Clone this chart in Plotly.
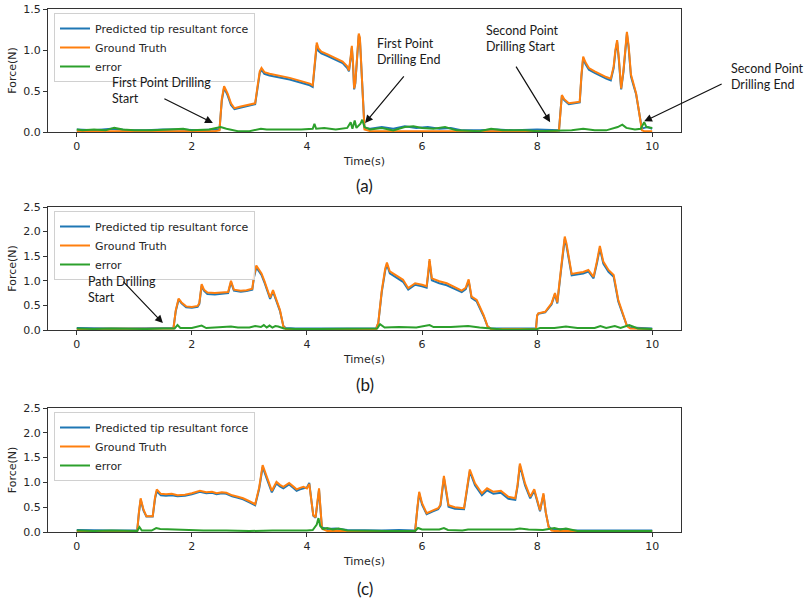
import plotly.graph_objects as go

W, H = 808, 603

# ---------------- data: panel (a) ----------------
T_A = [0.00, 0.30, 0.60, 0.90, 1.20, 1.50, 1.80, 2.10, 2.40, 2.48, 2.52, 2.56, 2.62, 2.68, 2.74, 2.85, 3.00, 3.10,
       3.14, 3.18, 3.21, 3.26, 3.35, 3.50, 3.70, 3.90, 4.05, 4.10, 4.14, 4.17, 4.20, 4.25, 4.35, 4.50, 4.62, 4.70,
       4.73, 4.76, 4.78, 4.80, 4.82, 4.84, 4.87, 4.90, 4.92, 4.95, 4.98, 5.00, 5.10, 5.30, 5.50, 5.70, 5.90, 6.10,
       6.30, 6.50, 6.70, 7.00, 7.30, 7.60, 8.00, 8.30, 8.38, 8.41, 8.43, 8.47, 8.55, 8.65, 8.74, 8.77, 8.80, 8.84,
       8.90, 9.00, 9.10, 9.20, 9.28, 9.33, 9.36, 9.39, 9.42, 9.46, 9.50, 9.53, 9.56, 9.59, 9.63, 9.67, 9.72, 9.77,
       9.82, 9.86, 9.92, 10.00]
GT_A = [0.01, 0.01, 0.01, 0.01, 0.01, 0.01, 0.01, 0.01, 0.01, 0.02, 0.40, 0.56, 0.47, 0.35, 0.29, 0.31, 0.33, 0.35,
        0.55, 0.74, 0.78, 0.73, 0.71, 0.69, 0.66, 0.62, 0.59, 0.57, 0.85, 1.09, 1.02, 0.98, 0.95, 0.90, 0.86, 0.80,
        0.75, 0.92, 1.05, 0.85, 0.53, 0.60, 0.95, 1.20, 1.15, 0.70, 0.20, 0.03, 0.01, 0.01, 0.01, 0.01, 0.01, 0.01,
        0.01, 0.01, 0.01, 0.01, 0.01, 0.01, 0.01, 0.01, 0.02, 0.30, 0.45, 0.40, 0.35, 0.36, 0.37, 0.70, 0.92, 0.85,
        0.78, 0.74, 0.70, 0.67, 0.65, 0.80, 1.00, 1.12, 0.90, 0.53, 0.75, 1.05, 1.22, 1.05, 0.70, 0.60, 0.47, 0.25,
        0.02, 0.01, 0.01, 0.01]
PRED_A = [0.03, 0.02, 0.04, 0.02, 0.02, 0.03, 0.03, 0.02, 0.03, 0.03, 0.38, 0.54, 0.45, 0.33, 0.28, 0.30, 0.32, 0.34,
          0.53, 0.72, 0.76, 0.71, 0.69, 0.67, 0.64, 0.60, 0.57, 0.55, 0.83, 1.06, 0.99, 0.96, 0.93, 0.88, 0.84, 0.78,
          0.74, 0.90, 1.03, 0.83, 0.52, 0.59, 0.93, 1.18, 1.13, 0.69, 0.20, 0.05, 0.04, 0.06, 0.04, 0.07, 0.05, 0.06,
          0.04, 0.05, 0.02, 0.02, 0.03, 0.02, 0.03, 0.02, 0.02, 0.29, 0.44, 0.39, 0.34, 0.35, 0.36, 0.68, 0.90, 0.83,
          0.76, 0.72, 0.68, 0.65, 0.63, 0.78, 0.98, 1.10, 0.88, 0.52, 0.73, 1.03, 1.20, 1.03, 0.68, 0.58, 0.46, 0.25,
          0.04, 0.05, 0.06, 0.04]
TE_A = [0.00, 0.10, 0.30, 0.50, 0.65, 0.80, 1.00, 1.30, 1.60, 1.85, 2.00, 2.30, 2.50, 2.60, 2.80, 3.00, 3.20, 3.30,
        3.60, 3.90, 4.10, 4.13, 4.16, 4.30, 4.50, 4.70, 4.76, 4.79, 4.83, 4.86, 4.93, 4.96, 5.00, 5.10, 5.30, 5.50,
        5.70, 5.85, 6.00, 6.20, 6.40, 6.60, 7.00, 7.20, 7.40, 7.80, 8.00, 8.40, 8.60, 8.80, 9.00, 9.20, 9.40, 9.48,
        9.55, 9.70, 9.80, 9.86, 9.90, 10.00]
ERR_A = [0.03, 0.02, 0.03, 0.02, 0.05, 0.03, 0.02, 0.02, 0.03, 0.04, 0.02, 0.03, 0.06, 0.04, 0.01, 0.01, 0.04, 0.03,
         0.03, 0.03, 0.04, 0.10, 0.04, 0.05, 0.03, 0.05, 0.12, 0.04, 0.14, 0.05, 0.10, 0.15, 0.06, 0.03, 0.05, 0.02,
         0.06, 0.07, 0.05, 0.04, 0.06, 0.02, 0.01, 0.04, 0.02, 0.02, 0.01, 0.02, 0.02, 0.04, 0.02, 0.02, 0.06, 0.09,
         0.05, 0.03, 0.04, 0.12, 0.06, 0.05]

# ---------------- data: panel (b) ----------------
T_B = [0.00, 0.30, 0.60, 0.90, 1.20, 1.50, 1.68, 1.72, 1.77, 1.82, 1.90, 2.00, 2.10, 2.13, 2.17, 2.21, 2.27, 2.40,
       2.55, 2.63, 2.68, 2.73, 2.85, 2.95, 3.05, 3.08, 3.12, 3.16, 3.21, 3.26, 3.30, 3.36, 3.41, 3.47, 3.53, 3.59,
       3.63, 3.80, 4.00, 4.30, 4.60, 4.90, 5.20, 5.24, 5.30, 5.36, 5.39, 5.44, 5.55, 5.67, 5.76, 5.88, 6.00, 6.08,
       6.11, 6.13, 6.17, 6.30, 6.43, 6.55, 6.69, 6.76, 6.81, 6.86, 6.95, 7.07, 7.14, 7.20, 7.50, 7.80, 7.98, 8.00,
       8.02, 8.14, 8.25, 8.31, 8.35, 8.42, 8.48, 8.51, 8.56, 8.60, 8.69, 8.80, 8.89, 8.98, 9.04, 9.09, 9.15, 9.24,
       9.33, 9.41, 9.50, 9.56, 9.62, 9.80, 10.00]
GT_B = [0.02, 0.02, 0.02, 0.02, 0.02, 0.02, 0.03, 0.40, 0.64, 0.56, 0.48, 0.47, 0.49, 0.55, 0.93, 0.82, 0.76, 0.75,
        0.76, 0.77, 1.00, 0.82, 0.80, 0.81, 0.84, 1.10, 1.31, 1.24, 1.15, 1.00, 0.88, 0.66, 0.81, 0.61, 0.41, 0.07,
        0.02, 0.02, 0.02, 0.02, 0.02, 0.02, 0.02, 0.15, 0.80, 1.25, 1.37, 1.19, 1.10, 1.02, 0.85, 0.95, 0.92, 0.89,
        1.20, 1.44, 1.05, 0.99, 0.95, 0.88, 0.80, 0.86, 1.03, 0.68, 0.61, 0.30, 0.07, 0.02, 0.02, 0.02, 0.02, 0.30,
        0.34, 0.37, 0.54, 0.75, 0.56, 1.30, 1.90, 1.76, 1.40, 1.14, 1.16, 1.18, 1.22, 1.08, 1.40, 1.71, 1.39, 1.22,
        1.12, 0.61, 0.30, 0.08, 0.03, 0.02, 0.02]
PRED_B = [0.04, 0.03, 0.03, 0.03, 0.03, 0.03, 0.04, 0.38, 0.62, 0.54, 0.46, 0.45, 0.47, 0.53, 0.90, 0.80, 0.73, 0.72,
          0.73, 0.75, 0.97, 0.80, 0.78, 0.79, 0.82, 1.07, 1.27, 1.20, 1.12, 0.97, 0.85, 0.63, 0.78, 0.58, 0.39, 0.08,
          0.04, 0.03, 0.03, 0.04, 0.03, 0.04, 0.03, 0.14, 0.77, 1.21, 1.33, 1.15, 1.06, 0.98, 0.82, 0.92, 0.89, 0.86,
          1.16, 1.40, 1.01, 0.95, 0.91, 0.85, 0.77, 0.83, 1.00, 0.65, 0.58, 0.28, 0.07, 0.03, 0.03, 0.03, 0.03, 0.29,
          0.33, 0.36, 0.52, 0.73, 0.54, 1.26, 1.85, 1.71, 1.36, 1.11, 1.13, 1.15, 1.19, 1.05, 1.36, 1.66, 1.35, 1.18,
          1.08, 0.58, 0.28, 0.09, 0.05, 0.04, 0.03]
TE_B = [0.00, 0.30, 0.60, 0.90, 1.20, 1.50, 1.70, 1.75, 1.80, 2.00, 2.17, 2.25, 2.50, 2.68, 2.80, 3.00, 3.10, 3.20,
        3.25, 3.30, 3.35, 3.40, 3.45, 3.50, 3.60, 3.80, 4.20, 4.60, 5.00, 5.22, 5.27, 5.35, 5.60, 5.90, 6.13, 6.20,
        6.50, 6.80, 7.00, 7.15, 7.40, 7.70, 8.00, 8.05, 8.30, 8.50, 8.70, 9.00, 9.10, 9.20, 9.35, 9.45, 9.60, 9.75,
        10.00]
ERR_B = [0.03, 0.02, 0.03, 0.02, 0.02, 0.03, 0.03, 0.10, 0.04, 0.04, 0.09, 0.04, 0.05, 0.07, 0.05, 0.05, 0.08, 0.06,
         0.10, 0.05, 0.09, 0.05, 0.08, 0.07, 0.03, 0.02, 0.02, 0.02, 0.02, 0.03, 0.12, 0.05, 0.06, 0.05, 0.10, 0.06,
         0.06, 0.08, 0.05, 0.03, 0.01, 0.01, 0.02, 0.04, 0.04, 0.07, 0.04, 0.04, 0.08, 0.04, 0.08, 0.04, 0.10, 0.03,
         0.02]

# ---------------- data: panel (c) ----------------
T_C = [0.00, 0.30, 0.60, 0.90, 1.05, 1.08, 1.11, 1.16, 1.21, 1.32, 1.36, 1.39, 1.46, 1.55, 1.65, 1.75, 1.88, 2.00,
       2.14, 2.25, 2.35, 2.43, 2.52, 2.60, 2.70, 2.80, 2.89, 3.00, 3.10, 3.17, 3.23, 3.30, 3.39, 3.47, 3.53, 3.59,
       3.69, 3.76, 3.82, 3.88, 3.94, 4.00, 4.04, 4.08, 4.11, 4.15, 4.18, 4.21, 4.24, 4.26, 4.35, 4.50, 4.70, 5.00,
       5.30, 5.60, 5.88, 5.92, 5.95, 6.00, 6.08, 6.18, 6.28, 6.32, 6.38, 6.46, 6.57, 6.73, 6.78, 6.83, 6.92, 7.04,
       7.13, 7.24, 7.37, 7.50, 7.62, 7.66, 7.70, 7.79, 7.88, 7.95, 8.05, 8.11, 8.15, 8.20, 8.25, 8.30, 8.45, 8.60,
       9.00, 9.50, 10.00]
GT_C = [0.02, 0.02, 0.02, 0.02, 0.02, 0.40, 0.68, 0.45, 0.32, 0.32, 0.70, 0.86, 0.77, 0.76, 0.77, 0.74, 0.75, 0.78,
        0.83, 0.80, 0.81, 0.78, 0.80, 0.79, 0.74, 0.71, 0.68, 0.62, 0.56, 0.90, 1.35, 1.12, 0.83, 1.01, 0.95, 0.91,
        0.99, 0.92, 0.86, 0.89, 0.91, 0.88, 0.97, 0.60, 0.34, 0.30, 0.60, 0.88, 0.40, 0.07, 0.02, 0.02, 0.02, 0.02,
        0.02, 0.02, 0.02, 0.50, 0.81, 0.58, 0.38, 0.43, 0.48, 0.55, 1.13, 0.54, 0.50, 0.48, 0.85, 1.26, 0.98, 0.78,
        0.88, 0.81, 0.83, 0.71, 0.68, 0.95, 1.38, 0.98, 0.71, 0.86, 0.44, 0.78, 0.40, 0.10, 0.03, 0.02, 0.02, 0.02,
        0.02, 0.02, 0.02]
PRED_C = [0.04, 0.03, 0.03, 0.03, 0.03, 0.38, 0.65, 0.43, 0.31, 0.31, 0.67, 0.82, 0.74, 0.73, 0.74, 0.72, 0.73, 0.76,
          0.81, 0.78, 0.79, 0.76, 0.78, 0.77, 0.72, 0.69, 0.66, 0.60, 0.54, 0.87, 1.31, 1.08, 0.80, 0.98, 0.92, 0.88,
          0.96, 0.89, 0.83, 0.86, 0.88, 0.90, 0.99, 0.58, 0.33, 0.29, 0.58, 0.85, 0.38, 0.09, 0.06, 0.07, 0.04, 0.03,
          0.03, 0.04, 0.03, 0.48, 0.78, 0.55, 0.36, 0.41, 0.46, 0.53, 1.09, 0.51, 0.47, 0.46, 0.82, 1.22, 0.94, 0.74,
          0.84, 0.77, 0.79, 0.67, 0.65, 0.92, 1.34, 0.94, 0.68, 0.83, 0.42, 0.75, 0.39, 0.11, 0.06, 0.05, 0.06, 0.03,
          0.03, 0.03, 0.03]
TE_C = [0.00, 0.30, 0.60, 0.90, 1.05, 1.09, 1.13, 1.30, 1.38, 1.45, 1.70, 1.90, 2.20, 2.60, 3.00, 3.40, 3.80, 4.00,
        4.10, 4.17, 4.20, 4.23, 4.28, 4.35, 4.45, 4.55, 4.70, 5.00, 5.40, 5.88, 5.93, 6.00, 6.30, 6.38, 6.45, 6.70,
        6.80, 7.00, 7.30, 7.60, 7.70, 7.85, 8.10, 8.20, 8.30, 8.40, 8.50, 8.70, 9.20, 9.60, 10.00]
ERR_C = [0.03, 0.02, 0.03, 0.02, 0.02, 0.10, 0.03, 0.03, 0.08, 0.06, 0.05, 0.04, 0.03, 0.03, 0.02, 0.03, 0.02, 0.03,
         0.04, 0.15, 0.28, 0.12, 0.06, 0.08, 0.05, 0.07, 0.03, 0.02, 0.02, 0.02, 0.08, 0.05, 0.05, 0.08, 0.04, 0.03,
         0.05, 0.05, 0.05, 0.05, 0.07, 0.05, 0.04, 0.06, 0.08, 0.05, 0.07, 0.02, 0.02, 0.02, 0.02]

SERIES_NAMES = ["Predicted tip resultant force", "Ground Truth", "error"]
COLORS = ["#1f77b4", "#ff7f0e", "#2ca02c"]
X_TICKS = [0, 2, 4, 6, 8, 10]
Y_MAX = [1.5, 2.5, 2.5]
PANEL_LABELS = ["(a)", "(b)", "(c)"]

PANELS = [
    (T_A, GT_A, PRED_A, TE_A, ERR_A),
    (T_B, GT_B, PRED_B, TE_B, ERR_B),
    (T_C, GT_C, PRED_C, TE_C, ERR_C),
]

# ---------------- layout geometry (page pixels) ----------------
X_LEFT, X_RIGHT = 48, 681
PANEL_PX = [(9, 132), (207, 330), (408, 532)]      # top, bottom of each axes box
LEGEND_PX = [(54, 13), (54, 211), (54, 412)]
LABEL_Y = [186, 384, 588]


def px(x):
    return x / W


def py(y):
    return 1 - y / H


TICK_FONT = dict(family="DejaVu Sans", size=11, color="#262626")
ANN_FONT = dict(family="Lato", size=12.5, color="#1a1a1a")

fig = go.Figure()

for i, (t, gt, pred, te, err) in enumerate(PANELS):
    sfx = "" if i == 0 else str(i + 1)
    xa, ya, lg = "x" + sfx, "y" + sfx, "legend" + sfx
    for name, xs, ys, col in [(SERIES_NAMES[0], t, pred, COLORS[0]),
                              (SERIES_NAMES[1], t, gt, COLORS[1]),
                              (SERIES_NAMES[2], te, err, COLORS[2])]:
        fig.add_trace(go.Scatter(x=xs, y=ys, mode="lines", name=name,
                                 line=dict(color=col, width=2),
                                 xaxis=xa, yaxis=ya, legend=lg))
    top, bot = PANEL_PX[i]
    axis_common = dict(showline=True, linecolor="#333333", linewidth=1, mirror=True,
                       ticks="outside", ticklen=4, tickcolor="#333333", tickwidth=1,
                       showgrid=False, zeroline=False, tickfont=TICK_FONT, automargin=False)
    fig.layout["xaxis" + sfx] = dict(axis_common, domain=[px(X_LEFT), px(X_RIGHT)],
                                     anchor=ya, range=[-0.5, 10.5], tickvals=X_TICKS,
                                     title=dict(text="Time(s)", font=TICK_FONT, standoff=5))
    fig.layout["yaxis" + sfx] = dict(axis_common, domain=[py(bot), py(top)],
                                     anchor=xa, range=[0, Y_MAX[i]], dtick=0.5, tickformat=".1f",
                                     title=dict(text="Force(N)", font=TICK_FONT, standoff=4))
    lx, ly = LEGEND_PX[i]
    fig.layout[lg] = dict(x=px(lx), y=py(ly), xanchor="left", yanchor="top",
                          bgcolor="rgba(255,255,255,0.8)", bordercolor="#d0d0d0", borderwidth=1,
                          font=dict(family="DejaVu Sans", size=11, color="#262626"),
                          tracegroupgap=0)

annotations = []
# arrows: (panel index, tip x, tip y (data), dx, dy in pixels from tip to tail)
ARROWS = [(0, 2.365, 0.11, -50, -25), (0, 5.01, 0.11, 40, -48),
          (0, 8.226, 0.12, -35, -57), (0, 9.86, 0.13, 79, -38),
          (1, 1.496, 0.14, -41, -43)]
for p, tx, ty, dx, dy in ARROWS:
    sfx = "" if p == 0 else str(p + 1)
    annotations.append(dict(x=tx, y=ty, xref="x" + sfx, yref="y" + sfx, ax=dx, ay=dy,
                            text="", showarrow=True, arrowhead=2, arrowsize=1.3,
                            arrowwidth=1.2, arrowcolor="#111111"))
# texts: (left px, top px, text)
TEXTS = [(110, 73, "First Point Drilling<br>Start"),
         (375, 34, "First Point<br>Drilling End"),
         (484, 21, "Second Point<br>Drilling Start"),
         (729, 59, "Second Point<br>Drilling End"),
         (86, 272, "Path Drilling<br>Start")]
for lx, ty, txt in TEXTS:
    annotations.append(dict(x=px(lx), y=py(ty), xref="paper", yref="paper",
                            xanchor="left", yanchor="top", align="left",
                            text=txt, showarrow=False, font=ANN_FONT))
for i, lab in enumerate(PANEL_LABELS):
    annotations.append(dict(x=px((X_LEFT + X_RIGHT) / 2), y=py(LABEL_Y[i]), xref="paper", yref="paper",
                            xanchor="center", yanchor="middle", text=lab, showarrow=False,
                            font=dict(family="Lato", size=17, color="#1a1a1a")))

fig.update_layout(width=W, height=H, margin=dict(l=0, r=0, t=0, b=0, autoexpand=False),
                  paper_bgcolor="white", plot_bgcolor="white",
                  annotations=annotations, showlegend=True)

# remove the browser's default body margin so the 808x603 figure fills the window exactly
fig.write_html("out.html", config={"displayModeBar": False},
               post_script="document.body.style.margin='0';document.body.style.overflow='hidden';")
